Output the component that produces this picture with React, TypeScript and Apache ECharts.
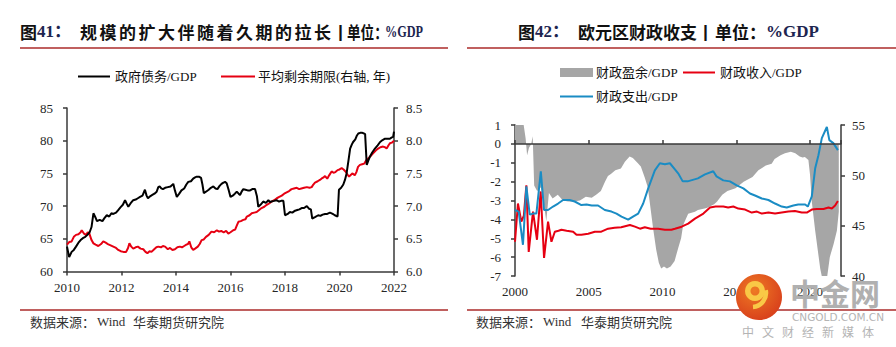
import React, { useEffect, useRef } from "react";
import * as echarts from "echarts";

// ---------- Left chart: 政府债务/GDP vs 平均剩余期限 ----------
const govDebt: [number, number][] = [
  [2010.0, 63.8], [2010.04, 63.0], [2010.08, 62.2], [2010.17, 63.0], [2010.25, 63.3], [2010.33, 63.8],
  [2010.42, 64.4], [2010.5, 64.8], [2010.58, 65.1], [2010.67, 65.3], [2010.75, 65.6], [2010.83, 66.0],
  [2010.9, 66.8], [2010.97, 68.9], [2011.04, 68.3], [2011.1, 67.7], [2011.2, 67.9], [2011.3, 67.7],
  [2011.38, 68.2], [2011.46, 68.6], [2011.55, 68.4], [2011.63, 68.9], [2011.7, 68.8], [2011.8, 69.0],
  [2011.88, 69.4], [2011.96, 69.8], [2012.05, 70.2], [2012.13, 70.9], [2012.2, 70.3], [2012.25, 69.9],
  [2012.33, 70.4], [2012.43, 70.9], [2012.52, 71.0], [2012.6, 71.2], [2012.68, 71.4], [2012.77, 71.6],
  [2012.86, 72.5], [2012.92, 71.6], [2012.97, 71.2], [2013.05, 71.5], [2013.13, 71.7], [2013.21, 71.9],
  [2013.29, 72.2], [2013.35, 72.9], [2013.4, 73.0], [2013.46, 72.7], [2013.52, 72.6], [2013.6, 72.8],
  [2013.7, 72.9], [2013.8, 73.0], [2013.9, 73.4], [2013.96, 72.4], [2014.03, 71.4], [2014.12, 71.9],
  [2014.2, 72.4], [2014.3, 72.7], [2014.38, 73.3], [2014.45, 73.7], [2014.55, 73.8], [2014.63, 74.2],
  [2014.7, 74.4], [2014.76, 74.5], [2014.84, 74.5], [2014.92, 74.3], [2014.97, 73.3], [2015.02, 72.0],
  [2015.1, 72.2], [2015.2, 72.5], [2015.28, 72.8], [2015.37, 73.0], [2015.45, 72.7], [2015.52, 72.6],
  [2015.6, 73.1], [2015.67, 73.4], [2015.74, 73.6], [2015.8, 73.7], [2015.86, 73.5], [2015.93, 72.5],
  [2016.0, 71.4], [2016.08, 71.6], [2016.16, 71.9], [2016.23, 72.2], [2016.3, 71.9], [2016.35, 71.7],
  [2016.42, 72.3], [2016.47, 72.6], [2016.55, 72.5], [2016.63, 72.4], [2016.72, 72.4], [2016.8, 72.6],
  [2016.9, 72.6], [2016.97, 71.5], [2017.02, 69.9], [2017.1, 70.2], [2017.2, 70.7], [2017.3, 70.5],
  [2017.39, 70.9], [2017.45, 70.6], [2017.5, 70.7], [2017.6, 70.8], [2017.69, 70.9], [2017.78, 70.7],
  [2017.86, 70.8], [2017.94, 70.8], [2018.0, 68.6], [2018.1, 68.8], [2018.18, 69.1], [2018.27, 69.0],
  [2018.37, 69.3], [2018.45, 69.4], [2018.53, 69.5], [2018.61, 69.7], [2018.7, 69.7], [2018.8, 70.0],
  [2018.88, 69.6], [2018.95, 69.5], [2019.0, 68.1], [2019.1, 68.3], [2019.22, 68.6], [2019.3, 68.5],
  [2019.38, 68.7], [2019.47, 68.8], [2019.55, 68.8], [2019.65, 69.0], [2019.75, 68.8], [2019.83, 68.6],
  [2019.93, 68.4], [2019.98, 72.5], [2020.06, 72.8], [2020.14, 73.3], [2020.2, 74.0], [2020.26, 75.0],
  [2020.33, 77.0], [2020.39, 78.8], [2020.45, 79.4], [2020.5, 79.8], [2020.58, 80.2], [2020.64, 80.8],
  [2020.69, 81.1], [2020.76, 81.2], [2020.84, 81.2], [2020.9, 81.1], [2020.94, 81.0], [2021.0, 76.3],
  [2021.06, 77.0], [2021.12, 77.6], [2021.2, 78.2], [2021.3, 78.8], [2021.4, 79.3], [2021.49, 79.8],
  [2021.58, 80.1], [2021.67, 80.3], [2021.75, 80.3], [2021.85, 80.3], [2021.92, 80.5], [2021.97, 80.6],
  [2022.0, 81.4],
];

const avgMaturity: [number, number][] = [
  [2010.0, 6.41], [2010.08, 6.45], [2010.17, 6.46], [2010.25, 6.53], [2010.33, 6.56], [2010.42, 6.57],
  [2010.5, 6.6], [2010.54, 6.63], [2010.62, 6.58], [2010.7, 6.56], [2010.76, 6.6], [2010.82, 6.58],
  [2010.9, 6.48], [2010.97, 6.43], [2011.05, 6.41], [2011.15, 6.39], [2011.25, 6.42], [2011.33, 6.46],
  [2011.42, 6.44], [2011.5, 6.42], [2011.6, 6.4], [2011.7, 6.38], [2011.8, 6.36], [2011.88, 6.33],
  [2011.97, 6.31], [2012.07, 6.3], [2012.17, 6.3], [2012.24, 6.36], [2012.29, 6.43], [2012.36, 6.38],
  [2012.43, 6.35], [2012.52, 6.37], [2012.6, 6.38], [2012.7, 6.35], [2012.8, 6.34], [2012.88, 6.3],
  [2012.95, 6.28], [2013.03, 6.31], [2013.1, 6.3], [2013.2, 6.34], [2013.28, 6.37], [2013.35, 6.38],
  [2013.45, 6.37], [2013.52, 6.39], [2013.6, 6.38], [2013.7, 6.34], [2013.78, 6.36], [2013.87, 6.33],
  [2013.96, 6.34], [2014.05, 6.37], [2014.14, 6.38], [2014.22, 6.37], [2014.3, 6.39], [2014.38, 6.41],
  [2014.44, 6.42], [2014.49, 6.46], [2014.56, 6.37], [2014.63, 6.33], [2014.7, 6.35], [2014.8, 6.38],
  [2014.87, 6.42], [2014.94, 6.48], [2015.02, 6.49], [2015.1, 6.53], [2015.2, 6.56], [2015.3, 6.61],
  [2015.4, 6.6], [2015.5, 6.63], [2015.58, 6.61], [2015.66, 6.62], [2015.75, 6.6], [2015.84, 6.62],
  [2015.92, 6.58], [2016.0, 6.6], [2016.1, 6.63], [2016.17, 6.64], [2016.23, 6.7], [2016.29, 6.76],
  [2016.38, 6.77], [2016.47, 6.79], [2016.55, 6.8], [2016.6, 6.84], [2016.7, 6.86], [2016.78, 6.89],
  [2016.87, 6.9], [2016.96, 6.91], [2017.05, 6.94], [2017.14, 6.97], [2017.24, 6.99], [2017.33, 7.02],
  [2017.42, 7.04], [2017.51, 7.07], [2017.6, 7.09], [2017.7, 7.12], [2017.79, 7.14], [2017.88, 7.16],
  [2017.97, 7.19], [2018.06, 7.21], [2018.15, 7.23], [2018.24, 7.26], [2018.33, 7.27], [2018.43, 7.28],
  [2018.52, 7.26], [2018.6, 7.27], [2018.7, 7.28], [2018.8, 7.29], [2018.9, 7.28], [2018.98, 7.29],
  [2019.04, 7.33], [2019.1, 7.36], [2019.2, 7.38], [2019.28, 7.4], [2019.37, 7.43], [2019.42, 7.44],
  [2019.47, 7.46], [2019.55, 7.42], [2019.62, 7.47], [2019.71, 7.53], [2019.78, 7.51], [2019.85, 7.52],
  [2019.93, 7.55], [2020.0, 7.56], [2020.08, 7.58], [2020.15, 7.56], [2020.22, 7.53], [2020.3, 7.48],
  [2020.35, 7.45], [2020.42, 7.48], [2020.48, 7.5], [2020.56, 7.47], [2020.62, 7.52], [2020.68, 7.6],
  [2020.75, 7.63], [2020.83, 7.64], [2020.91, 7.65], [2020.98, 7.7], [2021.06, 7.73], [2021.15, 7.77],
  [2021.24, 7.81], [2021.33, 7.85], [2021.42, 7.88], [2021.5, 7.9], [2021.6, 7.91], [2021.67, 7.9],
  [2021.73, 7.88], [2021.8, 7.93], [2021.85, 7.96], [2021.92, 7.97], [2022.0, 8.0],
];

// ---------- Right chart: 欧元区财政收支 ----------
const fiscalSurplus: [number, number][] = [
  [2000.0, 1.6], [2000.3, 1.6], [2000.55, 1.2], [2000.72, 0.3], [2000.82, -0.6], [2000.95, -0.2],
  [2001.1, 0.0], [2001.2, 0.4], [2001.3, -2.2], [2001.5, -2.5], [2001.75, -2.3], [2001.95, -3.1],
  [2002.12, -4.1], [2002.3, -2.6], [2002.55, -2.9], [2002.9, -2.7], [2003.25, -3.0], [2003.6, -3.05],
  [2004.0, -3.05], [2004.4, -3.0], [2004.8, -2.8], [2005.2, -2.85], [2005.5, -2.7], [2005.82, -2.5],
  [2006.1, -2.0], [2006.3, -1.7], [2006.5, -1.6], [2006.8, -1.4], [2007.18, -1.3], [2007.45, -0.95],
  [2007.77, -0.67], [2007.99, -0.75], [2008.3, -1.0], [2008.53, -1.2], [2008.8, -1.8], [2009.0, -2.3],
  [2009.12, -3.0], [2009.35, -4.4], [2009.57, -5.6], [2009.75, -6.3], [2009.91, -6.6], [2010.1, -6.5],
  [2010.3, -6.6], [2010.55, -6.5], [2010.82, -6.2], [2011.07, -5.5], [2011.26, -5.0], [2011.4, -4.3],
  [2011.74, -3.7], [2012.2, -3.6], [2012.4, -3.5], [2013.0, -3.4], [2013.5, -3.2], [2013.7, -3.05],
  [2014.05, -2.7], [2014.4, -2.5], [2014.95, -2.35], [2015.5, -2.0], [2016.1, -1.75], [2016.5, -1.4],
  [2017.0, -1.15], [2017.4, -1.05], [2017.6, -0.8], [2018.0, -0.6], [2018.3, -0.5], [2018.7, -0.42],
  [2019.0, -0.5], [2019.3, -0.67], [2019.5, -0.72], [2019.65, -0.7], [2019.89, -0.85], [2020.0, -1.64],
  [2020.12, -3.05], [2020.35, -4.6], [2020.69, -6.6], [2020.9, -7.4], [2021.1, -7.4], [2021.34, -6.0],
  [2021.6, -5.3], [2021.82, -4.6], [2021.95, -3.6],
];

const fiscalRevenue: [number, number][] = [
  [2000.0, 43.4], [2000.2, 47.2], [2000.43, 45.4], [2000.6, 46.0], [2000.77, 49.0], [2000.93, 42.4],
  [2001.22, 46.4], [2001.49, 43.6], [2001.74, 48.4], [2001.97, 41.8], [2002.24, 45.4], [2002.47, 43.4],
  [2002.7, 44.4], [2002.95, 44.5], [2003.15, 44.6], [2003.5, 44.5], [2003.94, 44.4], [2004.17, 44.1],
  [2004.5, 44.1], [2004.96, 44.2], [2005.41, 44.4], [2005.85, 44.4], [2006.31, 44.7], [2006.75, 44.8],
  [2007.2, 44.85], [2007.79, 45.07], [2008.13, 44.9], [2008.47, 44.7], [2008.8, 44.85], [2009.2, 44.7],
  [2009.7, 44.7], [2010.16, 44.6], [2010.6, 44.6], [2010.84, 44.7], [2011.3, 44.9], [2011.74, 45.2],
  [2012.2, 45.7], [2012.77, 46.2], [2013.22, 46.8], [2013.6, 46.9], [2014.12, 46.9], [2014.45, 46.8],
  [2014.8, 46.9], [2015.14, 46.7], [2015.6, 46.6], [2016.05, 46.3], [2016.4, 46.4], [2016.73, 46.2],
  [2017.18, 46.3], [2017.63, 46.2], [2018.08, 46.3], [2018.53, 46.4], [2018.98, 46.45], [2019.44, 46.3],
  [2019.78, 46.3], [2020.12, 46.6], [2020.46, 46.66], [2020.91, 46.66], [2021.25, 46.8], [2021.48, 46.7],
  [2021.7, 47.0], [2021.89, 47.45],
];

const fiscalSpending: [number, number][] = [
  [2000.0, 46.56], [2000.25, 46.4], [2000.54, 43.1], [2000.77, 48.9], [2001.0, 46.1], [2001.22, 46.2],
  [2001.45, 46.2], [2001.75, 50.4], [2001.97, 46.56], [2002.24, 46.56], [2002.58, 46.9], [2002.92, 47.2],
  [2003.26, 47.55], [2003.7, 47.55], [2004.05, 47.4], [2004.5, 47.05], [2004.85, 47.1], [2005.2, 47.0],
  [2005.63, 47.0], [2006.09, 46.56], [2006.54, 46.4], [2006.88, 46.2], [2007.22, 45.9], [2007.67, 45.6],
  [2008.0, 45.9], [2008.35, 46.2], [2008.69, 47.2], [2009.03, 48.7], [2009.48, 50.5], [2009.82, 51.2],
  [2010.16, 51.1], [2010.5, 51.2], [2010.84, 50.6], [2011.06, 50.2], [2011.37, 49.4], [2011.7, 49.4],
  [2012.4, 49.7], [2012.88, 50.1], [2013.44, 50.4], [2013.66, 49.9], [2014.12, 49.5], [2014.57, 49.4],
  [2015.03, 49.0], [2015.48, 48.7], [2015.93, 48.2], [2016.27, 48.0], [2016.73, 47.7], [2017.18, 47.55],
  [2017.63, 47.2], [2018.08, 46.9], [2018.42, 46.8], [2018.87, 47.0], [2019.2, 47.1], [2019.67, 47.1],
  [2019.85, 46.9], [2020.12, 47.9], [2020.35, 50.7], [2020.57, 52.0], [2020.8, 53.7], [2021.14, 54.8],
  [2021.31, 53.5], [2021.58, 53.2], [2021.89, 52.5],
];

// ---------- Texts ----------
const LEFT_TITLE_HEAD = "图";
const LEFT_TITLE_NUM = "41：";
const LEFT_TITLE_BODY = "规模的扩大伴随着久期的拉长";
const RIGHT_TITLE_NUM = "42：";
const RIGHT_TITLE_BODY = "欧元区财政收支";
const TITLE_SEP = "丨";
const TITLE_UNIT = "单位：";
const TITLE_GDP = "%GDP";
const LEGEND_DEBT = "政府债务/GDP";
const LEGEND_MATURITY = "平均剩余期限(右轴, 年)";
const LEGEND_SURPLUS = "财政盈余/GDP";
const LEGEND_REVENUE = "财政收入/GDP";
const LEGEND_SPENDING = "财政支出/GDP";
const SOURCE_HEAD = "数据来源：";
const SOURCE_WIND = "Wind";
const SOURCE_ORG = "华泰期货研究院";
const WM_NAME = "中金网";
const WM_URL = "CNGOLD.COM.CN";
const WM_SLOGAN = "中文财经新媒体";

const SERIF = '"Liberation Serif", "Times New Roman", "Noto Sans CJK SC", serif';
const CJK = '"Noto Sans CJK SC", sans-serif';
const RULE = "#C0605F";
const AXIS = "#3a3a3a";
const LABEL = "#262626";
const NAVY = "#1d2550";

function text(t: string, x: number, y: number, o: any = {}) {
  return {
    type: "text",
    x,
    y,
    z: o.z ?? 10,
    scaleX: o.scaleX ?? 1,
    style: {
      text: t,
      fontSize: o.size ?? 13,
      fontFamily: o.family ?? SERIF,
      fontWeight: o.weight ?? "normal",
      fill: o.fill ?? LABEL,
      opacity: o.opacity ?? 1,
      align: "left",
      textAlign: "left",
      verticalAlign: "middle",
      textVerticalAlign: "middle",
    },
  };
}

function line(x1: number, y1: number, x2: number, y2: number, stroke: string, w: number) {
  return { type: "line", z: 10, shape: { x1, y1, x2, y2 }, style: { stroke, lineWidth: w } };
}

export default function App() {
  const ref = useRef<HTMLDivElement>(null);

  useEffect(() => {
    document.body.style.margin = "0";
    if (!ref.current) return;
    const chart = echarts.init(ref.current, undefined, { renderer: "svg" });

    const axisLabel = { fontFamily: SERIF, fontSize: 13, color: LABEL };
    const axisLineStyle = { color: AXIS, width: 1.5 };
    const bold = { size: 17, weight: "bold", family: CJK, fill: "#111" };

    const graphics: any[] = [];
    // Titles
    graphics.push(text(LEFT_TITLE_HEAD, 20, 31, bold));
    graphics.push(text(LEFT_TITLE_NUM, 37, 31, { size: 17, weight: "bold", fill: NAVY }));
    Array.from(LEFT_TITLE_BODY).forEach((ch, i) => graphics.push(text(ch, 80 + i * 19.5, 31, bold)));
    graphics.push(text(TITLE_SEP, 332, 31, bold));
    graphics.push(text(TITLE_UNIT, 347, 31, { ...bold, scaleX: 0.8 }));
    graphics.push(text(TITLE_GDP, 385, 31, { size: 17, weight: "bold", fill: NAVY, scaleX: 0.72 }));

    graphics.push(text(LEFT_TITLE_HEAD, 518, 31, bold));
    graphics.push(text(RIGHT_TITLE_NUM, 535, 31, { size: 17, weight: "bold", fill: NAVY }));
    graphics.push(text(RIGHT_TITLE_BODY, 578, 31, bold));
    graphics.push(text(TITLE_SEP, 697, 31, bold));
    graphics.push(text(TITLE_UNIT, 715, 31, bold));
    graphics.push(text(TITLE_GDP, 766, 31, { size: 17, weight: "bold", fill: NAVY }));

    // Rules
    graphics.push(line(20, 48, 448, 48, RULE, 2));
    graphics.push(line(467, 48, 896, 48, RULE, 2));
    graphics.push(line(20, 310, 448, 310, RULE, 2));
    graphics.push(line(467, 310, 896, 310, RULE, 2));

    // Left legend
    graphics.push(line(78, 76.5, 110, 76.5, "#000", 2));
    graphics.push(text(LEGEND_DEBT, 115, 76.5, { fill: "#111" }));
    graphics.push(line(221, 76.5, 255, 76.5, "#E60012", 2));
    graphics.push(text(LEGEND_MATURITY, 258, 76.5, { fill: "#111" }));

    // Right legend
    graphics.push({ type: "rect", z: 10, shape: { x: 560, y: 68, width: 33, height: 9 }, style: { fill: "#A6A6A6" } });
    graphics.push(text(LEGEND_SURPLUS, 596, 72.5, { fill: "#111" }));
    graphics.push(line(683, 72.5, 715, 72.5, "#E60012", 2));
    graphics.push(text(LEGEND_REVENUE, 720, 72.5, { fill: "#111" }));
    graphics.push(line(560, 96.5, 593, 96.5, "#1A8CC4", 2));
    graphics.push(text(LEGEND_SPENDING, 596, 96.5, { fill: "#111" }));

    // Sources
    graphics.push(text(SOURCE_HEAD, 30, 321, { family: CJK, fill: "#333" }));
    graphics.push(text(SOURCE_WIND, 97, 321, { fill: "#333" }));
    graphics.push(text(SOURCE_ORG, 133, 321, { family: CJK, fill: "#333" }));
    graphics.push(text(SOURCE_HEAD, 476, 321, { family: CJK, fill: "#333" }));
    graphics.push(text(SOURCE_WIND, 543, 321, { fill: "#333" }));
    graphics.push(text(SOURCE_ORG, 581, 321, { family: CJK, fill: "#333" }));

    // Watermark (source image overlay)
    graphics.push({
      type: "circle",
      z: 100,
      shape: { cx: 759, cy: 297, r: 23 },
      style: {
        fill: new echarts.graphic.RadialGradient(0.4, 0.35, 0.75, [
          { offset: 0, color: "#EE7A24" },
          { offset: 1, color: "#D63A1B" },
        ]),
      },
    });
    graphics.push({ type: "ring", z: 101, shape: { cx: 755, cy: 291, r: 10, r0: 4.5 }, style: { fill: "#F9C846" } });
    graphics.push({
      type: "arc",
      z: 101,
      shape: { cx: 752, cy: 293, r: 14, startAngle: -0.2, endAngle: 1.5, clockwise: true },
      style: { stroke: "#F9C846", lineWidth: 4.5, fill: null },
    });
    graphics.push(text(WM_NAME, 790, 292, { size: 30, weight: "bold", family: CJK, fill: "#b0b0b0", z: 100 }));
    graphics.push(text(WM_URL, 792, 317, { size: 10.5, family: '"DejaVu Sans", sans-serif', fill: "#b4b4b4", z: 100 }));
    Array.from(WM_SLOGAN).forEach((ch, i) =>
      graphics.push(text(ch, 742 + i * 20, 331, { size: 12, family: CJK, fill: "#b4b4b4", z: 100 }))
    );

    chart.setOption({
      animation: false,
      backgroundColor: "#ffffff",
      grid: [
        { left: 67, top: 108, width: 327, height: 163.5, containLabel: false },
        { left: 515, top: 125, width: 326, height: 151, containLabel: false },
      ],
      xAxis: [
        {
          gridIndex: 0,
          type: "value",
          min: 2010,
          max: 2022,
          interval: 2,
          axisLine: { show: true, onZero: false, lineStyle: axisLineStyle },
          axisTick: { show: true, length: 4, lineStyle: axisLineStyle },
          axisLabel: { ...axisLabel, margin: 9, formatter: (v: number) => String(v) },
          splitLine: { show: false },
        },
        {
          gridIndex: 1,
          type: "value",
          position: "bottom",
          min: 2000,
          max: 2022.1,
          interval: 5,
          axisLine: { show: false, onZero: false },
          axisTick: { show: false },
          axisLabel: { ...axisLabel, margin: 9, showMaxLabel: false, formatter: (v: number) => String(v) },
          splitLine: { show: false },
        },
        {
          gridIndex: 1,
          type: "value",
          position: "top",
          min: 2000,
          max: 2022.1,
          interval: 5,
          z: 5,
          axisLine: { show: true, onZero: true, lineStyle: axisLineStyle },
          axisTick: { show: true, length: 4, lineStyle: axisLineStyle },
          axisLabel: { show: false },
          splitLine: { show: false },
        },
      ],
      yAxis: [
        {
          gridIndex: 0,
          type: "value",
          position: "left",
          min: 60,
          max: 85,
          interval: 5,
          axisLine: { show: true, onZero: false, lineStyle: axisLineStyle },
          axisTick: { show: true, length: 4, lineStyle: axisLineStyle },
          axisLabel: { ...axisLabel, margin: 14 },
          splitLine: { show: false },
        },
        {
          gridIndex: 0,
          type: "value",
          position: "right",
          min: 6,
          max: 8.5,
          interval: 0.5,
          axisLine: { show: true, onZero: false, lineStyle: axisLineStyle },
          axisTick: { show: true, length: 4, lineStyle: axisLineStyle },
          axisLabel: { ...axisLabel, margin: 12, formatter: (v: number) => v.toFixed(1) },
          splitLine: { show: false },
        },
        {
          gridIndex: 1,
          type: "value",
          position: "left",
          min: -7,
          max: 1,
          interval: 1,
          axisLine: { show: true, onZero: false, lineStyle: axisLineStyle },
          axisTick: { show: true, length: 4, lineStyle: axisLineStyle },
          axisLabel: { ...axisLabel, margin: 14 },
          splitLine: { show: false },
        },
        {
          gridIndex: 1,
          type: "value",
          position: "right",
          min: 40,
          max: 55,
          interval: 5,
          axisLine: { show: true, onZero: false, lineStyle: axisLineStyle },
          axisTick: { show: true, length: 4, lineStyle: axisLineStyle },
          axisLabel: { ...axisLabel, margin: 11 },
          splitLine: { show: false },
        },
      ],
      series: [
        {
          name: LEGEND_SURPLUS,
          type: "line",
          xAxisIndex: 1,
          yAxisIndex: 2,
          data: fiscalSurplus,
          symbol: "none",
          lineStyle: { width: 0, color: "#A6A6A6" },
          areaStyle: { color: "#A6A6A6", opacity: 1 },
          z: 1,
        },
        {
          name: LEGEND_REVENUE,
          type: "line",
          xAxisIndex: 1,
          yAxisIndex: 3,
          data: fiscalRevenue,
          symbol: "none",
          lineStyle: { width: 2, color: "#E60012" },
          itemStyle: { color: "#E60012" },
          z: 3,
        },
        {
          name: LEGEND_SPENDING,
          type: "line",
          xAxisIndex: 1,
          yAxisIndex: 3,
          data: fiscalSpending,
          symbol: "none",
          lineStyle: { width: 2, color: "#1A8CC4" },
          itemStyle: { color: "#1A8CC4" },
          z: 3,
        },
        {
          name: LEGEND_DEBT,
          type: "line",
          xAxisIndex: 0,
          yAxisIndex: 0,
          data: govDebt,
          symbol: "none",
          lineStyle: { width: 2, color: "#000000" },
          itemStyle: { color: "#000000" },
          z: 3,
        },
        {
          name: LEGEND_MATURITY,
          type: "line",
          xAxisIndex: 0,
          yAxisIndex: 1,
          data: avgMaturity,
          symbol: "none",
          lineStyle: { width: 2, color: "#E60012" },
          itemStyle: { color: "#E60012" },
          z: 2,
        },
      ],
      graphic: graphics,
    });

    return () => {
      chart.dispose();
    };
  }, []);

  return <div ref={ref} style={{ width: 896, height: 347 }} />;
}
